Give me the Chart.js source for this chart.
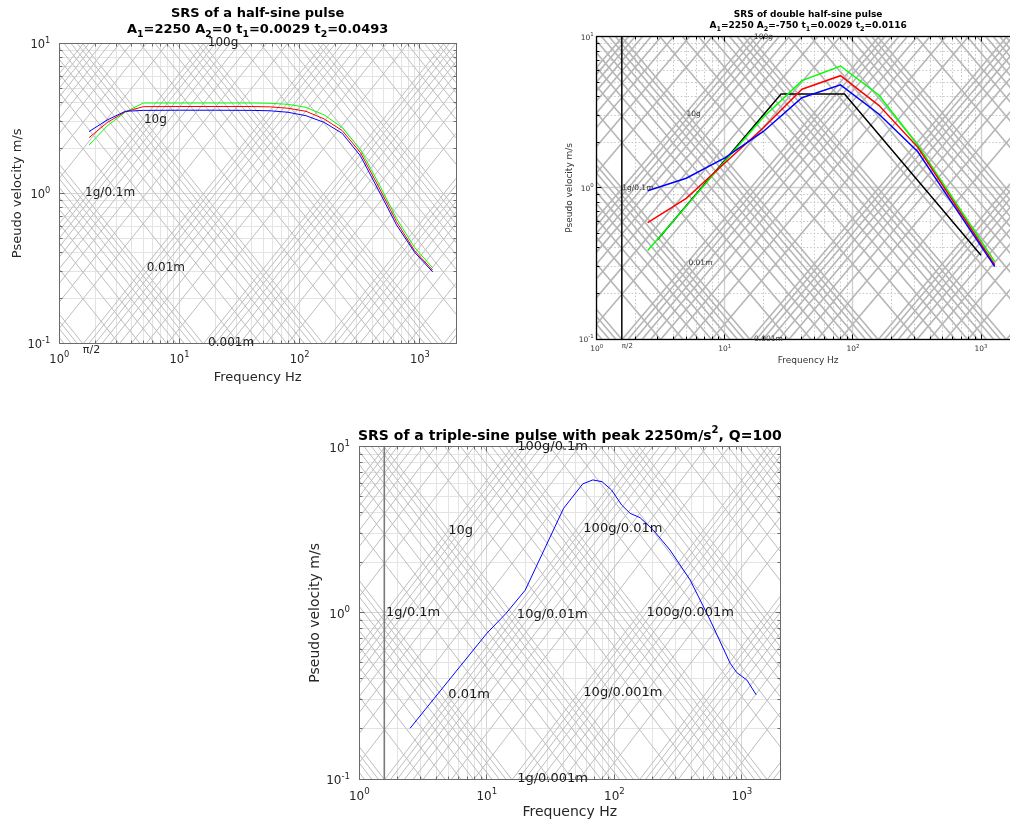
<!DOCTYPE html>
<html>
<head>
<meta charset="utf-8">
<script src="https://cdn.jsdelivr.net/npm/chart.js@4.4.0/dist/chart.umd.min.js"></script>
<style>
  html, body { margin: 0; padding: 0; background: #fff; overflow: hidden; width: 1010px; height: 821px; }
  canvas { position: absolute; }
</style>
</head>
<body>
<canvas id="srsHalfSine" width="470" height="395" style="left:0px;top:0px;width:470px;height:395px"></canvas>
<canvas id="srsDouble" width="490" height="372" style="left:540px;top:0px;width:490px;height:372px"></canvas>
<canvas id="srsTriple" width="500" height="401" style="left:300px;top:420px;width:500px;height:401px"></canvas>
<script>
// ---------------- axes ----------------
const freqRange = [1, 2000];          // Hz
const velRange = [0.1, 10];           // m/s
const freqTicks = [1, 10, 100, 1000];
const velTicks = [0.1, 1, 10];

// ---------------- half-sine pulse ----------------
const halfSineFreq  = [1.77, 2.5, 3.54, 5, 10, 20, 40, 56.6, 80, 113, 160, 226, 320, 453, 640, 905, 1280];
const halfSineBlue  = [2.58, 3.08, 3.52, 3.57, 3.58, 3.58, 3.57, 3.55, 3.47, 3.29, 2.97, 2.51, 1.78, 1.05, 0.615, 0.404, 0.299];
const halfSineRed   = [2.35, 2.96, 3.50, 3.78, 3.79, 3.79, 3.79, 3.77, 3.69, 3.52, 3.13, 2.62, 1.87, 1.11, 0.646, 0.414, 0.307];
const halfSineGreen = [2.10, 2.81, 3.48, 4.00, 4.00, 4.00, 4.00, 3.98, 3.92, 3.74, 3.33, 2.74, 1.96, 1.17, 0.68, 0.435, 0.318];

// ---------------- double half-sine pulse ----------------
const doubleFreq  = [2.5, 5, 10, 20, 40, 80, 160, 320, 1280];
const doubleBlue  = [0.957, 1.157, 1.58, 2.36, 3.95, 4.80, 3.07, 1.74, 0.301];
const doubleRed   = [0.589, 0.853, 1.46, 2.50, 4.49, 5.52, 3.50, 1.86, 0.309];
const doubleGreen = [0.385, 0.757, 1.50, 2.93, 5.12, 6.40, 4.10, 1.92, 0.325];
const envelopeFreq = [3, 27.5, 86, 1000];
const envelopeVel  = [0.457, 4.17, 4.17, 0.358];

// ---------------- triple-sine pulse ----------------
const tripleFreq = [2.5, 10, 14.1, 20, 40, 56.5, 67.7, 80, 95, 114, 133, 159, 202, 273, 392, 563, 808, 912, 1094, 1294];
const tripleVel  = [0.202, 0.753, 0.99, 1.37, 4.26, 5.97, 6.31, 6.16, 5.49, 4.46, 3.97, 3.74, 3.15, 2.39, 1.58, 0.906, 0.498, 0.437, 0.394, 0.321];

// ---------------- guide-line labels (text at frequency / velocity) ----------------
const halfSineMarkText = ['100g', '10g', '1g/0.1m', '0.01m', '0.001m'];
const halfSineMarkFreq = [17.2, 5.06, 1.64, 5.33, 17.3];
const halfSineMarkVel  = [10, 3.08, 1.0, 0.318, 0.1];

const doubleMarkText = ['100g', '10g', '1g/0.1m', '0.01m', '0.001m'];
const doubleMarkFreq = [16.9, 5.02, 1.58, 5.2, 16.9];
const doubleMarkVel  = [10, 3.08, 1.0, 0.319, 0.1];

const tripleMarkText = ['100g/0.1m', '10g', '100g/0.01m', '1g/0.1m', '10g/0.01m', '100g/0.001m', '0.01m', '10g/0.001m', '1g/0.001m'];
const tripleMarkFreq = [17.3, 4.98, 57.1, 1.62, 17.2, 179, 4.98, 57.1, 17.3];
const tripleMarkVel  = [10, 3.12, 3.23, 1.0, 0.98, 1.01, 0.321, 0.33, 0.1];

// ---------------- tripartite guide levels ----------------
const G = 9.81;
const guideSteps = [1, 2, 3, 4, 5, 6, 7, 8, 9];
const accelDecadesG = [0.001, 0.01, 0.1, 1, 10, 100, 1000, 10000, 100000];
const dispDecadesM = [1e-8, 1e-7, 1e-6, 1e-5, 1e-4, 1e-3, 1e-2, 1e-1, 1, 10];

const FONT = '"DejaVu Sans", "Liberation Sans", sans-serif';
const TWO_PI = 2 * Math.PI;
const decadeLabel = v => '10^{' + Math.round(Math.log10(v)) + '}';

function logSteps(min, max) {
  const out = [];
  for (let e = Math.floor(Math.log10(min)); e <= Math.ceil(Math.log10(max)); e++) {
    for (const k of guideSteps) {
      const v = k * Math.pow(10, e);
      if (v >= min * 0.9999 && v <= max * 1.0001) out.push({ v, major: k === 1 });
    }
  }
  return out;
}
const crisp = (p, w) => (Math.round(w) % 2 === 1 ? Math.round(p - 0.5) + 0.5 : Math.round(p));

function stroke(ctx, x1, y1, x2, y2, st) {
  ctx.beginPath();
  ctx.strokeStyle = st.color;
  ctx.lineWidth = st.width;
  ctx.setLineDash(st.dash || []);
  ctx.moveTo(x1, y1);
  ctx.lineTo(x2, y2);
  ctx.stroke();
}

// Text with ^x / ^{..} superscripts and _x subscripts
function drawRich(ctx, str, cx, cy, size, weight, color, align) {
  const parts = [];
  for (let i = 0; i < str.length; i++) {
    const c = str[i];
    if ((c === '^' || c === '_') && i + 1 < str.length) {
      if (str[i + 1] === '{') {
        const end = str.indexOf('}', i + 2);
        parts.push({ t: str.slice(i + 2, end), k: c });
        i = end;
      } else {
        parts.push({ t: str[i + 1], k: c });
        i++;
      }
    } else if (parts.length && !parts[parts.length - 1].k) parts[parts.length - 1].t += c;
    else parts.push({ t: c, k: '' });
  }
  const small = size * 0.72;
  let w = 0;
  for (const p of parts) {
    ctx.font = `${weight} ${p.k ? small : size}px ${FONT}`;
    p.w = ctx.measureText(p.t).width;
    w += p.w;
  }
  let x = align === 'right' ? cx - w : align === 'left' ? cx : cx - w / 2;
  ctx.textAlign = 'left';
  ctx.textBaseline = 'middle';
  ctx.fillStyle = color;
  for (const p of parts) {
    ctx.font = `${weight} ${p.k ? small : size}px ${FONT}`;
    const dy = p.k === '_' ? size * 0.36 : p.k === '^' ? -size * 0.42 : 0;
    ctx.fillText(p.t, x, cy + dy);
    x += p.w;
  }
}

// Grid, tripartite guides, box, inner ticks, tick labels, guide labels and titles
const spectrumFrame = {
  id: 'spectrumFrame',
  beforeDatasetsDraw(chart, _args, o) {
    const { ctx, chartArea: a, scales: { x, y } } = chart;
    ctx.save();
    ctx.beginPath();
    ctx.rect(a.left, a.top, a.right - a.left, a.bottom - a.top);
    ctx.clip();
    for (const s of logSteps(x.min, x.max)) {
      const st = s.major ? o.major : o.minor;
      const px = crisp(x.getPixelForValue(s.v), st.width);
      stroke(ctx, px, a.top, px, a.bottom, st);
    }
    for (const s of logSteps(y.min, y.max)) {
      const st = s.major ? o.major : o.minor;
      const py = crisp(y.getPixelForValue(s.v), st.width);
      stroke(ctx, a.left, py, a.right, py, st);
    }
    const f0 = x.min, f1 = x.max;
    const accels = accelDecadesG.flatMap(d => guideSteps.map(k => k * d * G));
    const disps = dispDecadesM.flatMap(d => guideSteps.map(k => k * d));
    for (const acc of accels) {
      stroke(ctx, x.getPixelForValue(f0), y.getPixelForValue(acc / (TWO_PI * f0)),
                  x.getPixelForValue(f1), y.getPixelForValue(acc / (TWO_PI * f1)), o.diag);
    }
    for (const d of disps) {
      stroke(ctx, x.getPixelForValue(f0), y.getPixelForValue(TWO_PI * f0 * d),
                  x.getPixelForValue(f1), y.getPixelForValue(TWO_PI * f1 * d), o.diag);
    }
    if (o.piLine) {
      const px = x.getPixelForValue(Math.PI / 2);
      stroke(ctx, px, a.top, px, a.bottom, o.piLine);
    }
    ctx.restore();
  },
  afterDatasetsDraw(chart, _args, o) {
    const { ctx, chartArea: a, scales: { x, y } } = chart;
    ctx.save();
    const bw = o.box.width;
    const L = crisp(a.left, bw), R = crisp(a.right, bw), T = crisp(a.top, bw), B = crisp(a.bottom, bw);
    const tickSt = { color: o.box.color, width: 1 };
    for (const s of logSteps(x.min, x.max)) {
      const px = crisp(x.getPixelForValue(s.v), 1);
      const len = s.major ? o.tickMajor : o.tickMinor;
      stroke(ctx, px, B, px, B - len, tickSt);
      stroke(ctx, px, T, px, T + len, tickSt);
    }
    for (const s of logSteps(y.min, y.max)) {
      const py = crisp(y.getPixelForValue(s.v), 1);
      const len = s.major ? o.tickMajor : o.tickMinor;
      stroke(ctx, L, py, L + len, py, tickSt);
      stroke(ctx, R, py, R - len, py, tickSt);
    }
    ctx.beginPath();
    ctx.setLineDash([]);
    ctx.strokeStyle = o.box.color;
    ctx.lineWidth = bw;
    ctx.strokeRect(L, T, R - L, B - T);

    // decade tick labels from the scales' own ticks
    const tl = o.tickLabels;
    x.ticks.forEach(t => drawRich(ctx, decadeLabel(t.value), x.getPixelForValue(t.value), a.bottom + tl.xOffset, tl.size, 'normal', tl.color, 'center'));
    y.ticks.forEach(t => drawRich(ctx, decadeLabel(t.value), a.left - tl.yGap, y.getPixelForValue(t.value) + tl.yShift, tl.size, 'normal', tl.color, 'right'));

    // guide labels
    ctx.font = `${o.marks.size}px ${FONT}`;
    ctx.fillStyle = o.marks.color;
    ctx.textAlign = 'left';
    ctx.textBaseline = 'middle';
    o.marks.text.forEach((t, i) => {
      ctx.fillText(t, x.getPixelForValue(o.marks.freq[i]), y.getPixelForValue(o.marks.vel[i]));
    });
    if (o.piText) {
      ctx.font = `${o.piText.size}px ${FONT}`;
      ctx.fillStyle = tl.color;
      ctx.fillText('\u03C0/2', x.getPixelForValue(Math.PI / 2), y.getPixelForValue(o.piText.vel));
    }
    // title
    const cx = (a.left + a.right) / 2;
    o.title.lines.forEach((ln, i) => drawRich(ctx, ln, cx, a.top + o.title.offsets[i], o.title.size, 'bold', '#000', 'center'));
    ctx.restore();
  }
};

function buildChart(id, s) {
  const titleFont = { family: FONT, size: s.labelSize };
  return new Chart(document.getElementById(id), {
    type: 'scatter',
    data: {
      datasets: s.series.map(d => ({
        data: d.freq.map((f, i) => ({ x: f, y: d.vel[i] })),
        showLine: true, borderColor: d.color, backgroundColor: d.color,
        borderWidth: s.lineWidth, pointRadius: 0, pointHoverRadius: 0, tension: 0, fill: false
      }))
    },
    options: {
      responsive: false, animation: false, events: [],
      layout: { padding: s.padding },
      plugins: { legend: { display: false }, tooltip: { enabled: false }, title: { display: false }, spectrumFrame: s.frame },
      scales: {
        x: {
          type: 'logarithmic', position: 'bottom', min: freqRange[0], max: freqRange[1],
          afterBuildTicks: sc => { sc.ticks = freqTicks.map(v => ({ value: v })); },
          afterFit: sc => { sc.height = s.xHeight; },
          grid: { display: false, drawTicks: false }, border: { display: false },
          ticks: { display: false, autoSkip: false, maxRotation: 0 },
          title: { display: true, text: 'Frequency Hz', color: s.textColor, font: titleFont, padding: { top: 0, bottom: s.xTitlePad } }
        },
        y: {
          type: 'logarithmic', position: 'left', min: velRange[0], max: velRange[1],
          afterBuildTicks: sc => { sc.ticks = velTicks.map(v => ({ value: v })); },
          afterFit: sc => { sc.width = s.yWidth; },
          grid: { display: false, drawTicks: false }, border: { display: false },
          ticks: { display: false, autoSkip: false },
          title: { display: true, text: 'Pseudo velocity m/s', color: s.textColor, font: titleFont, padding: { top: s.yTitlePad, bottom: 0 } }
        }
      }
    },
    plugins: [spectrumFrame]
  });
}

const lightGrid = {
  minor: { color: '#e4e4e4', width: 1 },
  major: { color: '#d6d6d6', width: 1 },
  diag: { color: '#bdbdbd', width: 1 },
  box: { color: '#6b6b6b', width: 1 },
  tickMinor: 3, tickMajor: 5
};

buildChart('srsHalfSine', {
  padding: { top: 43.3, right: 14, bottom: 0, left: 0 },
  yWidth: 59.3, xHeight: 51.7,
  labelSize: 13, xTitlePad: 10, yTitlePad: 10,
  textColor: '#262626', lineWidth: 1,
  series: [
    { freq: halfSineFreq, vel: halfSineBlue, color: '#0000ff' },
    { freq: halfSineFreq, vel: halfSineRed, color: '#ff0000' },
    { freq: halfSineFreq, vel: halfSineGreen, color: '#00ff00' }
  ],
  frame: Object.assign({}, lightGrid, {
    tickLabels: { size: 11.5, color: '#262626', xOffset: 16.5, yGap: 9, yShift: 2 },
    piLine: null,
    piText: { size: 11, vel: 0.09 },
    marks: { text: halfSineMarkText, freq: halfSineMarkFreq, vel: halfSineMarkVel, size: 12, color: '#1a1a1a' },
    title: { lines: ['SRS of a half-sine pulse', 'A_1=2250 A_2=0 t_1=0.0029 t_2=0.0493'], offsets: [-29.3, -13.8], size: 13 }
  })
});

buildChart('srsDouble', {
  padding: { top: 36.7, right: 10.4, bottom: 0, left: 0 },
  yWidth: 56.7, xHeight: 33,
  labelSize: 9, xTitlePad: 5.9, yTitlePad: 23.9,
  textColor: '#333333', lineWidth: 1.5,
  series: [
    { freq: doubleFreq, vel: doubleBlue, color: '#0000ff' },
    { freq: doubleFreq, vel: doubleRed, color: '#ff0000' },
    { freq: doubleFreq, vel: doubleGreen, color: '#00ff00' },
    { freq: envelopeFreq, vel: envelopeVel, color: '#000000' }
  ],
  frame: {
    minor: { color: '#c6c6c6', width: 1, dash: [1.5, 2] },
    major: { color: '#d0d0d0', width: 1.4 },
    diag: { color: '#b6b6b6', width: 1.6 },
    box: { color: '#000000', width: 1.3 },
    tickMinor: 3, tickMajor: 5,
    tickLabels: { size: 7.5, color: '#333333', xOffset: 10.5, yGap: 3, yShift: 1 },
    piLine: { color: '#000000', width: 1.5 },
    piText: { size: 7, vel: 0.09 },
    marks: { text: doubleMarkText, freq: doubleMarkFreq, vel: doubleMarkVel, size: 7.5, color: '#333333' },
    title: { lines: ['SRS of double half-sine pulse', 'A_1=2250 A_2=-750 t_1=0.0029 t_2=0.0116'], offsets: [-21.7, -11], size: 9 }
  }
});

buildChart('srsTriple', {
  padding: { top: 26.7, right: 19.7, bottom: 0, left: 0 },
  yWidth: 59.3, xHeight: 42,
  labelSize: 14, xTitlePad: 0, yTitlePad: 6.6,
  textColor: '#262626', lineWidth: 1,
  series: [
    { freq: tripleFreq, vel: tripleVel, color: '#0000ff' }
  ],
  frame: Object.assign({}, lightGrid, {
    tickLabels: { size: 12, color: '#262626', xOffset: 17.5, yGap: 9.3, yShift: 2.3 },
    piLine: { color: '#7a7a7a', width: 1.6 },
    piText: null,
    marks: { text: tripleMarkText, freq: tripleMarkFreq, vel: tripleMarkVel, size: 13, color: '#1a1a1a' },
    title: { lines: ['SRS of a triple-sine pulse with peak 2250m/s^2, Q=100'], offsets: [-10], size: 14 }
  })
});
</script>
</body>
</html>
